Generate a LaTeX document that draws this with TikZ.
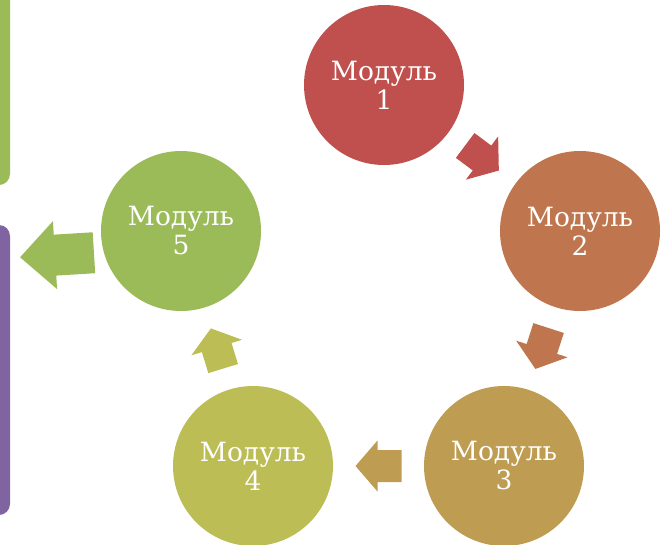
\documentclass[tikz,border=0pt]{standalone}
\usepackage{fontspec}
\setmainfont{DejaVu Serif}
\usetikzlibrary{calc}
\definecolor{c1}{HTML}{C0504D}
\definecolor{c2}{HTML}{BF764F}
\definecolor{c3}{HTML}{BE9C52}
\definecolor{c4}{HTML}{BCBD55}
\definecolor{c5}{HTML}{9BBB59}
\definecolor{cp}{HTML}{8064A2}
\newcommand\blockarrow[7]{%
  \fill[#7, shift={#1}, rotate=#2]
    ({-0.5*#3},{-0.5*#5}) -- ({0.5*#3-#6},{-0.5*#5}) -- ({0.5*#3-#6},{-0.5*#4})
    -- ({0.5*#3},0) -- ({0.5*#3-#6},{0.5*#4}) -- ({0.5*#3-#6},{0.5*#5})
    -- ({-0.5*#3},{0.5*#5}) -- cycle;}
\tikzset{
  modcirc/.style={circle, minimum size=160pt, inner sep=0pt, text=white,
    align=center, font=\fontsize{26.5}{29}\selectfont},
  sidebox/.style={rounded corners=11pt}
}
\begin{document}
\begin{tikzpicture}[x=1pt,y=-1pt]
\useasboundingbox (0,0) rectangle (663,544);
\clip (0,0) rectangle (663,544);
\fill[c5, sidebox] (-30,-30) rectangle (10,185);
\fill[cp, sidebox] (-30,225) rectangle (10,515);
\node[modcirc, fill=c1] (m1) at (384,85) {Модуль\\1};
\node[modcirc, fill=c2] (m2) at (580,231) {Модуль\\2};
\node[modcirc, fill=c3] (m3) at (504,466) {Модуль\\3};
\node[modcirc, fill=c4] (m4) at (253,466) {Модуль\\4};
\node[modcirc, fill=c5] (m5) at (181,231) {Модуль\\5};
\coordinate (a12) at ($(m1)!0.5!(m2)$);
\coordinate (a23) at ($(m2)!0.5!(m3)$);
\coordinate (a34) at ($(m3)!0.5!(m4)$);
\coordinate (a45) at ($(m4)!0.5!(m5)$);
\coordinate (a5) at (57,255);
\blockarrow{(a12)}{-36.7}{42}{54}{31}{21}{c1}
\blockarrow{(a23)}{-107.9}{43}{54}{32}{21}{c2}
\blockarrow{(a34)}{180}{46}{51}{32}{22}{c3}
\blockarrow{(a45)}{107}{42}{53}{31}{20}{c4}
\blockarrow{(a5)}{183.5}{74}{68}{41}{35}{c5}
\end{tikzpicture}
\end{document}
